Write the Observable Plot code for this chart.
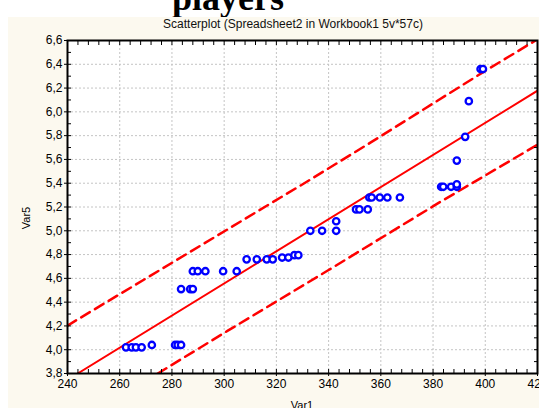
<!DOCTYPE html>
<html><head><meta charset="utf-8">
<script src="https://cdn.jsdelivr.net/npm/d3@7"></script>
<script src="https://cdn.jsdelivr.net/npm/@observablehq/plot@0.6"></script>
<style>
html,body{margin:0;padding:0;background:#fff;width:539px;height:408px;overflow:hidden;position:relative;font-family:"Liberation Sans",Arial,sans-serif;color:#000;}
.abs{position:absolute;white-space:nowrap;}
</style></head><body>
<div class="abs" style="left:172px;top:-20px;font:bold 36px/36px 'Liberation Serif',serif;">players</div>
<div class="abs" style="left:8px;top:17px;width:531px;height:391px;background:#fcf9ef;"></div>
<div id="chart" class="abs" style="left:0;top:0;"></div>
<div class="abs" style="left:293px;top:18px;font-size:12px;line-height:12px;transform:translateX(-50%);color:#111;">Scatterplot (Spreadsheet2 in Workbook1 5v*57c)</div>
<div class="abs" style="left:302px;top:399.5px;font-size:11px;line-height:11px;transform:translateX(-50%);">Var1</div>
<div class="abs" style="left:26px;top:218px;font-size:11px;line-height:11px;transform:translate(-50%,-50%) rotate(-90deg);">Var5</div>
<script>
// Data
const var1 = [262.4,264.6,266.2,268.4,272.3,281.2,282.2,283.5,
  283.5,287,288,
  288,289.9,292.8,299.6,304.8,
  308.6,312.5,316.3,318.6,
  322.2,324.6,326.9,328.4,
  333,337.5,342.9,342.9,
  350.5,351.8,355,
  355.6,356.5,359.6,362.5,367.3,
  383.1,383.9,386.9,389.1,389.1,389.1,392.3,393.7,398.2,399.1];
const var5 = [4.02,4.02,4.02,4.02,4.04,4.04,4.04,4.04,
  4.51,4.51,4.51,
  4.66,4.66,4.66,4.66,4.66,
  4.76,4.76,4.76,4.76,
  4.775,4.775,4.795,4.795,
  5.0,5.0,5.0,5.08,
  5.18,5.18,5.18,
  5.28,5.28,5.28,5.28,5.28,
  5.37,5.37,5.37,5.37,5.39,5.59,5.79,6.09,6.36,6.36];

const fitX = [243.9, 420];
const fitY = [3.8, 6.178];
const upperX = [240, 286, 332.6, 356.3, 400, 420];
const upperY = [4.203, 4.81, 5.425, 5.745, 6.345, 6.61];
const lowerX = [274.6, 301.4, 340, 381.8, 420];
const lowerY = [3.8, 4.16, 4.67, 5.23, 5.724];

const xMajor = [240,260,280,300,320,340,360,380,400,420];
const yMajor = [3.8,4.0,4.2,4.4,4.6,4.8,5.0,5.2,5.4,5.6,5.8,6.0,6.2,6.4,6.6];
const xMinor = d3.range(240, 421, 4);
const yMinor = d3.range(38, 67, 1).map(v => v / 10);

const points = var1.map((x, i) => ({x, y: var5[i]}));
const fit = fitX.map((x, i) => ({x, y: fitY[i]}));
const upper = upperX.map((x, i) => ({x, y: upperY[i]}));
const lower = lowerX.map((x, i) => ({x, y: lowerY[i]}));

const chart = Plot.plot({
  width: 539, height: 408,
  marginLeft: 67, marginRight: 2, marginTop: 40, marginBottom: 35,
  style: {background: "transparent", fontFamily: "'Liberation Sans', Arial, sans-serif", fontSize: "12px", color: "#000", overflow: "visible"},
  x: {domain: [240, 420]},
  y: {domain: [3.8, 6.6]},
  marks: [
    Plot.frame({fill: "white"}),
    Plot.gridX(xMajor.slice(1, -1), {stroke: "#c4c4c4", strokeOpacity: 1, strokeDasharray: "2,2"}),
    Plot.gridY(yMajor.slice(1, -1), {stroke: "#c4c4c4", strokeOpacity: 1, strokeDasharray: "2,2"}),
    Plot.line(fit, {x: "x", y: "y", stroke: "#ff0000", strokeWidth: 2, clip: true}),
    Plot.line(upper, {x: "x", y: "y", stroke: "#ff0000", strokeWidth: 2.5, strokeDasharray: "10,6", clip: true}),
    Plot.line(lower, {x: "x", y: "y", stroke: "#ff0000", strokeWidth: 2.5, strokeDasharray: "10,6", clip: true}),
    Plot.dot(points, {x: "x", y: "y", r: 3.2, stroke: "#0000ff", strokeWidth: 2.3, fill: "white"}),
    Plot.axisX({anchor: "bottom", ticks: xMinor, tickSize: -4, text: null, label: null, strokeWidth: 1}),
    Plot.axisX({anchor: "top", ticks: xMinor, tickSize: -4, text: null, label: null, strokeWidth: 1}),
    Plot.axisY({anchor: "left", ticks: yMinor, tickSize: -4, text: null, label: null, strokeWidth: 1}),
    Plot.axisY({anchor: "right", ticks: yMinor, tickSize: -4, text: null, label: null, strokeWidth: 1}),
    Plot.axisX({anchor: "bottom", ticks: xMajor, tickSize: 3, tickPadding: 3, tickFormat: d => String(d), label: null, fontSize: 12}),
    Plot.axisY({anchor: "left", ticks: yMajor, tickSize: 3, tickPadding: 2, tickFormat: d => d.toFixed(1).replace(".", ","), label: null, fontSize: 12}),
    Plot.frame({stroke: "black", strokeWidth: 2})
  ]
});
document.getElementById("chart").appendChild(chart);
</script>
</body></html>
